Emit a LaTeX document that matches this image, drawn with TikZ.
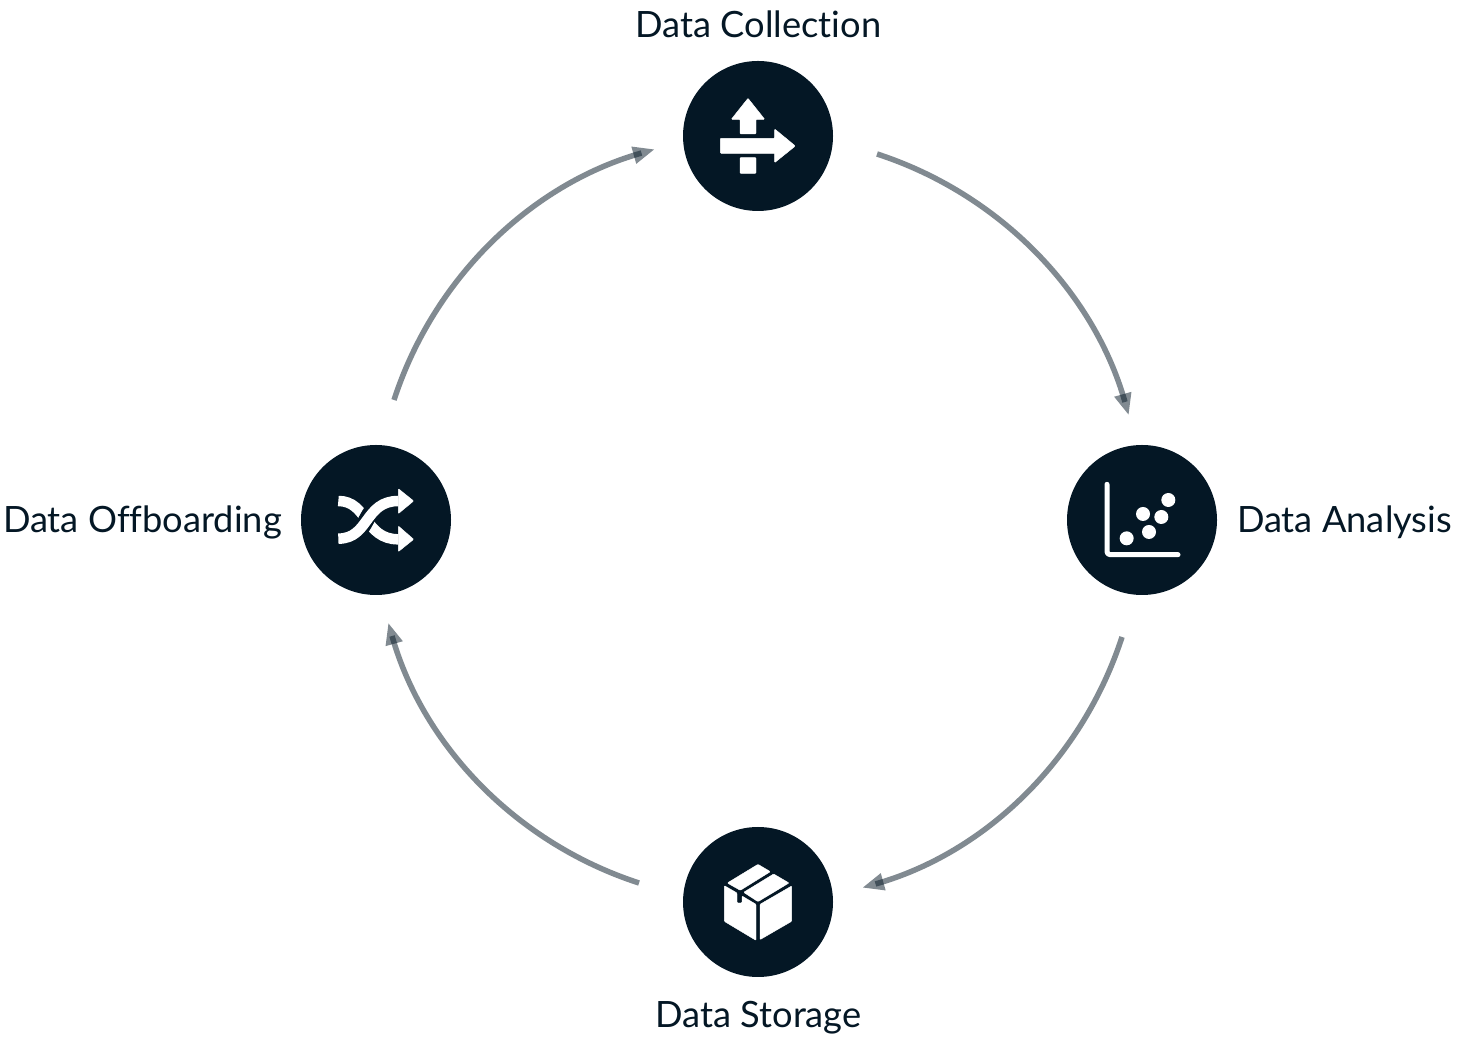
\documentclass[tikz,border=0pt]{standalone}
\usepackage{fontspec}
\setmainfont[Ligatures=NoCommon]{Lato}
\usetikzlibrary{calc}
\definecolor{navy}{HTML}{041725}
\pgfdeclarearrow{
  name=CycleTip,
  setup code={
    \pgfarrowssettipend{0pt}
    \pgfarrowssetbackend{-21pt}
    \pgfarrowssetlineend{-13pt}
    \pgfarrowssetvisualbackend{-13pt}
  },
  drawing code={
    \pgfpathmoveto{\pgfpointorigin}
    \pgfpathlineto{\pgfpoint{-21pt}{9pt}}
    \pgfpathlineto{\pgfpoint{-21pt}{-9pt}}
    \pgfpathclose
    \pgfusepathqfill
  }
}
\tikzset{
  hub/.style={circle,fill=navy,draw=none,minimum size=150pt,inner sep=0pt},
  caption/.style={text=navy,inner sep=0pt,anchor=base,font=\fontsize{36.25}{42}\selectfont},
  cycle/.style={line width=5.5pt,color=navy,opacity=.5,-{CycleTip}},
  iconfill/.style={fill=white,draw=white,line width=.4pt,rounded corners=.8pt,line join=round},
  zoomed/.style={x=.3333pt,y=-.3333pt}
}
\begin{document}
\begin{tikzpicture}[x=1pt,y=1pt]
\useasboundingbox (0,0) rectangle (1461,1038);
\fill[white] (0,0) rectangle (1461,1038);
\node[hub] (top) at (758,902) {};
\node[hub] (right) at (1142,518) {};
\node[hub] (bottom) at (758,136) {};
\node[hub] (left) at (376,518) {};
\node[caption] (captop) at (758.5,1000) {Data Collection};
\node[caption] (capright) at (1344.5,505.5) {Data Analysis};
\node[caption] (capbottom) at (758.5,10) {Data Storage};
\node[caption] (capleft) at (142.5,505.5) {Data Offboarding};
\coordinate (s1) at (877,884); \coordinate (t1) at (1128.5,623.5);
\coordinate (s2) at (1122,401); \coordinate (t2) at (863,150.5);
\coordinate (s3) at (639,155); \coordinate (t3) at (388.5,414.5);
\coordinate (s4) at (394,638); \coordinate (t4) at (654,888.5);
\draw[cycle] (s1) .. controls +(-18:128) and +(105.8:128) .. (t1);
\draw[cycle] (s2) .. controls +(-108:128) and +(15.8:128) .. (t2);
\draw[cycle] (s3) .. controls +(162:128) and +(-74.2:128) .. (t3);
\draw[cycle] (s4) .. controls +(72:128) and +(-164.2:128) .. (t4);
% collection icon
\begin{scope}[shift={(683,978)},zoomed]
\draw[iconfill] (195,115) -- (245,178) -- (219,178) -- (219,222) -- (171,222) -- (171,178) -- (145,178) -- cycle;
\draw[iconfill] (112,235) -- (275,235) -- (275,207) -- (337,258) -- (275,308) -- (275,280) -- (112,280) -- cycle;
\draw[iconfill] (171,293) rectangle (219,340);
\end{scope}
% analysis icon
\begin{scope}[shift={(1067,593)},zoomed]
\draw[white,line width=5pt,line cap=round,line join=round,rounded corners=3pt] (120,118) -- (120,329) -- (333,329);
\foreach \cx/\cy in {179/280,246/261,228/207,283/216,304/165}
  \fill[white] (\cx,\cy) circle[radius=7pt];
\end{scope}
% storage icon
\begin{scope}[shift={(683,211)},zoomed]
\draw[iconfill] (124,176) -- (162,198) -- (162,228) -- (177,228) -- (177,207) -- (219,232) -- (219,340) -- (124,283) -- cycle;
\draw[iconfill] (231,232) -- (326,177) -- (326,283) -- (231,338) -- cycle;
\draw[iconfill] (133,168) -- (225,112) -- (262,134) -- (172,190) -- cycle;
\draw[iconfill] (182,196) -- (272,141) -- (318,168) -- (225,224) -- cycle;
\end{scope}
% offboarding icon
\begin{scope}[shift={(301,593)},zoomed]
\draw[white,line width=10.5pt] (112,168) .. controls (200,168) and (190,283) .. (292,283);
\draw[navy,line width=16pt] (145,275) .. controls (205,260) and (190,175) .. (265,170);
\draw[white,line width=10.5pt] (112,281) .. controls (205,281) and (190,168) .. (292,168);
\draw[iconfill] (292,131) -- (338,168) -- (292,206) -- cycle;
\draw[iconfill] (292,243) -- (338,283) -- (292,320) -- cycle;
\end{scope}
\end{tikzpicture}
\end{document}
